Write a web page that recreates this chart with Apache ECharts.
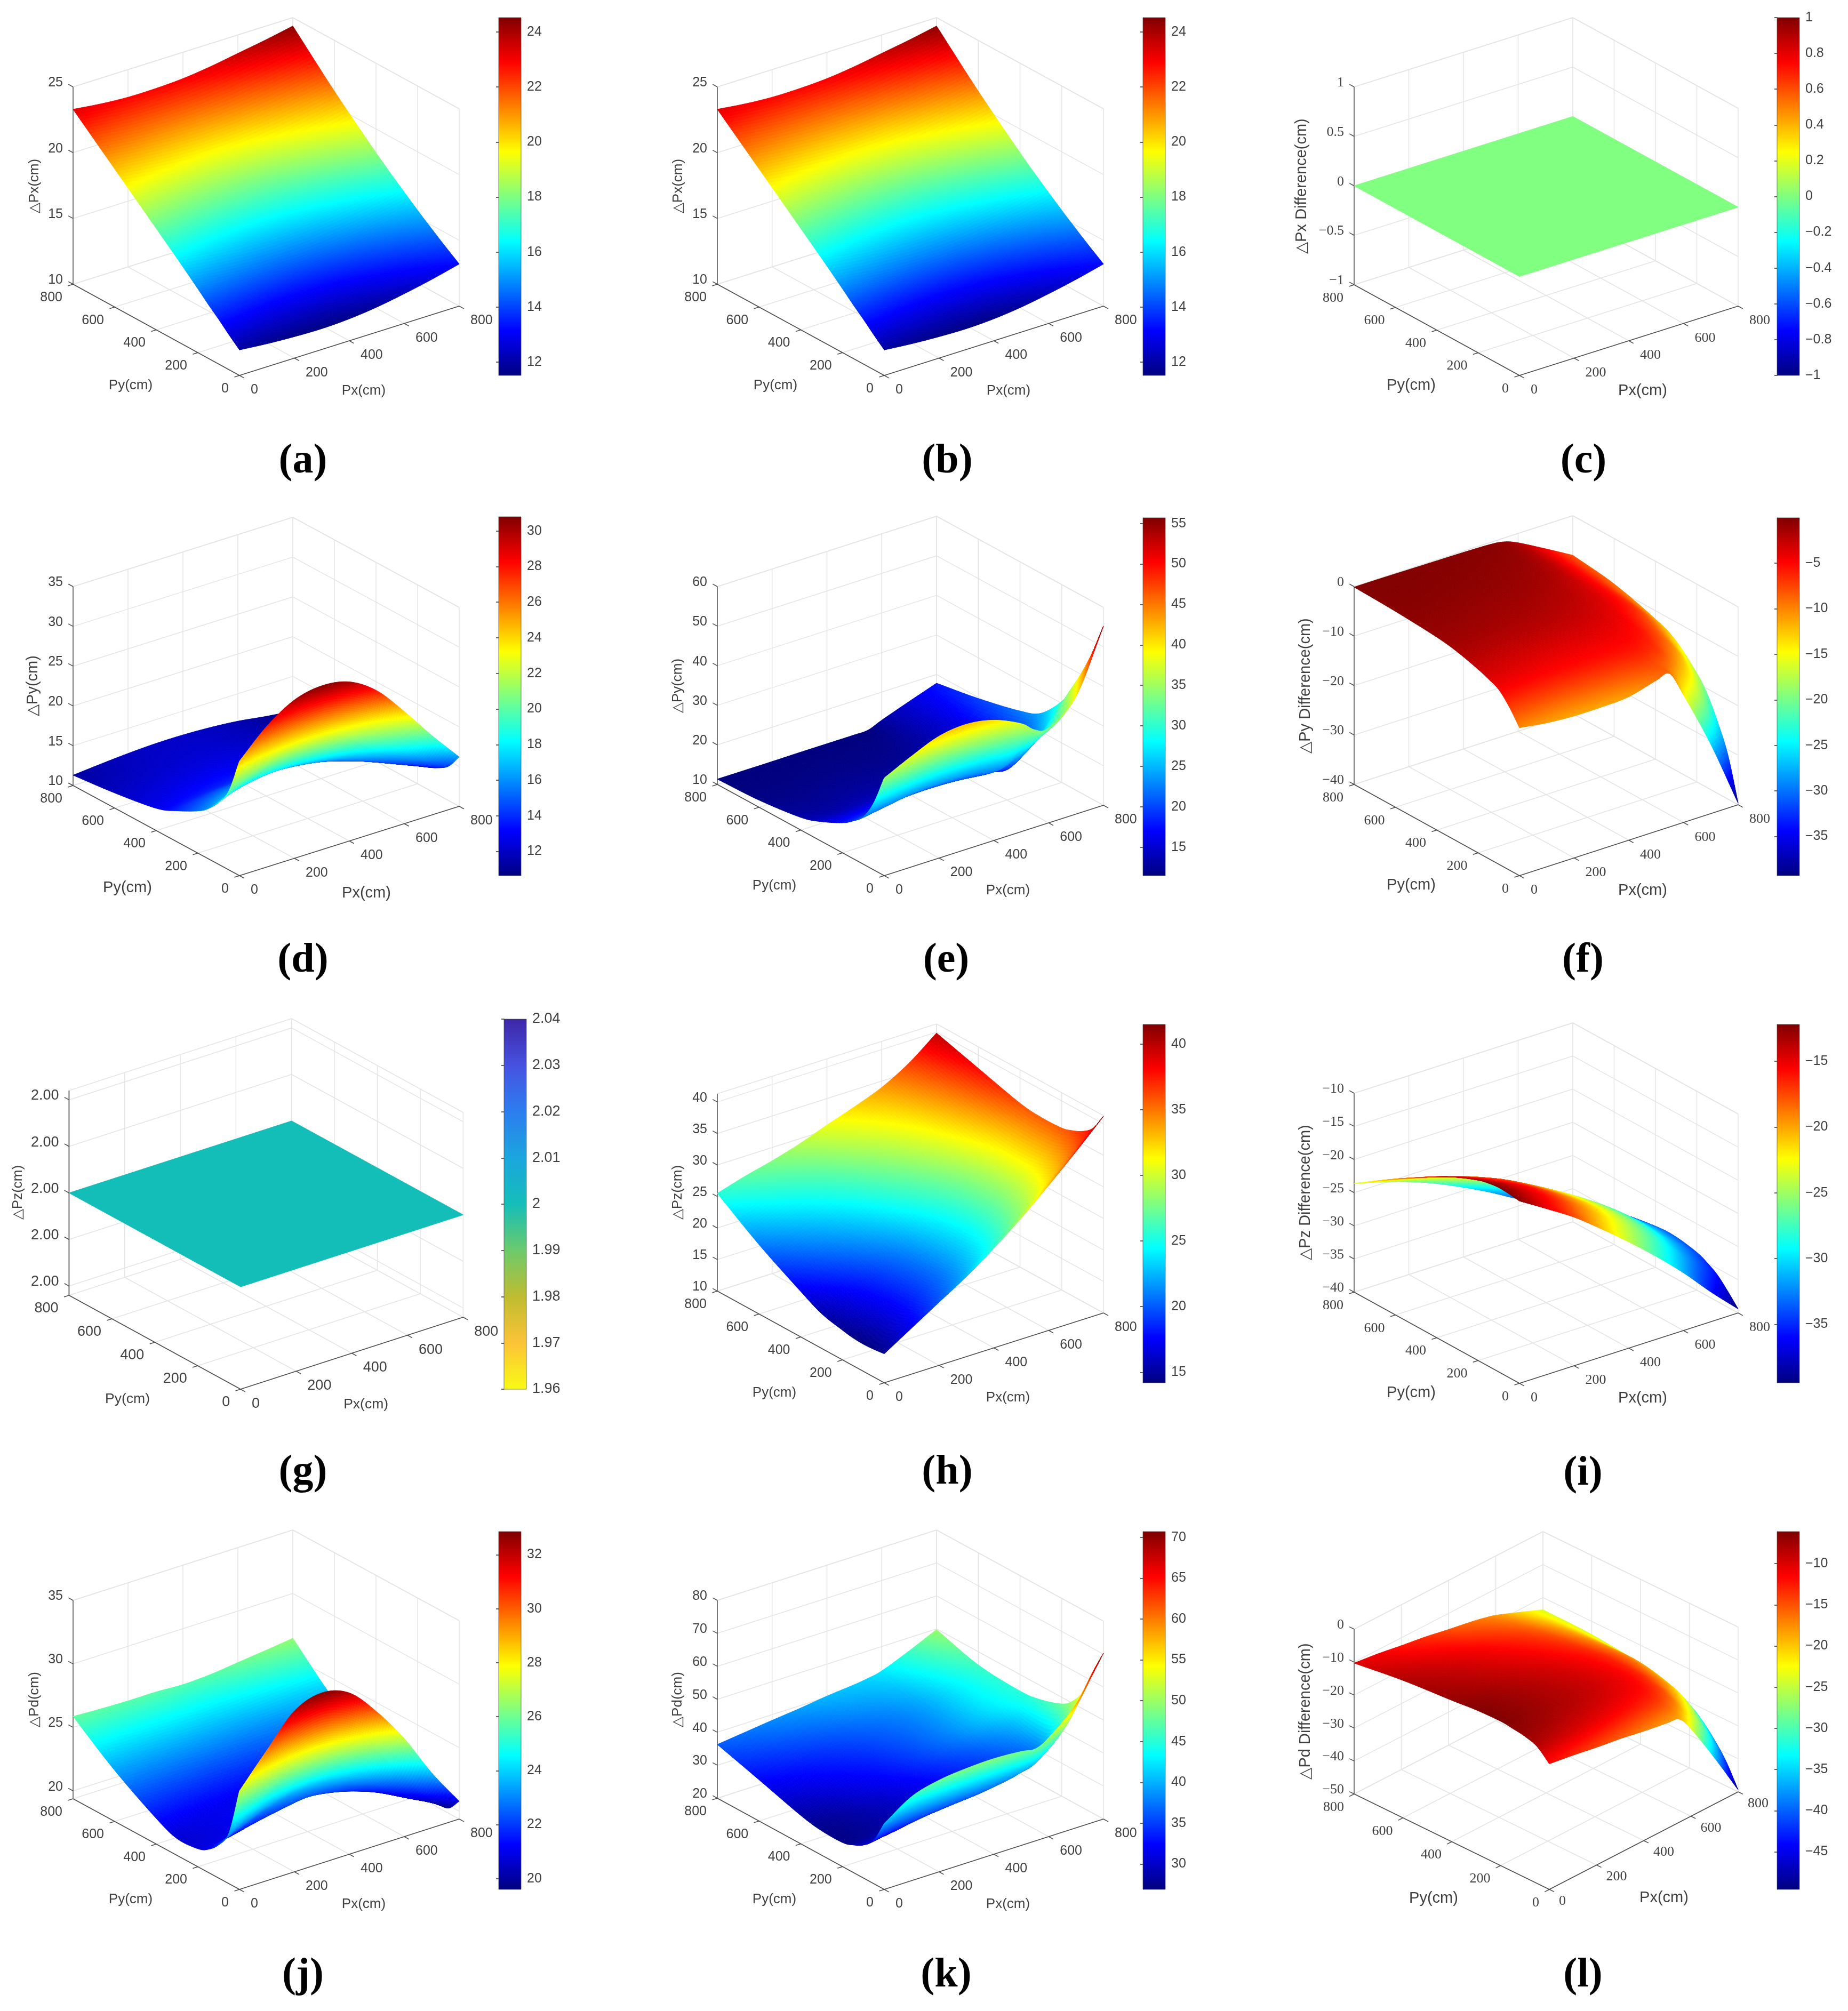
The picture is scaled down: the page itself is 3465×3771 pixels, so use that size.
<!DOCTYPE html>
<html><head><meta charset="utf-8"><style>html,body{margin:0;padding:0;background:#fff}#c{width:3465px;height:3771px}</style>
<script src="https://cdn.jsdelivr.net/npm/echarts@6/dist/echarts.min.js"></script></head><body><div id="c"></div>
<script>
// ---------- values ----------
const pxValues=[0,100,200,300,400,500,600,700,800];
const pxKink=[0,100,200,300,400,500,550,600,700,800];
const pyValues=[0,50,100,150,200,300,400,600,800];
const pxCorners=[0,800], pyCorners=[0,800];
const axisTicks=[0,200,400,600,800];

const dPxModel=[
[11.94,11.75,11.63,11.58,11.67,11.90,12.26,12.69,13.20],
[12.65,12.44,12.30,12.24,12.30,12.51,12.85,13.27,13.76],
[13.40,13.17,13.00,12.92,12.97,13.16,13.47,13.87,14.34],
[14.10,13.85,13.68,13.58,13.62,13.79,14.10,14.48,14.94],
[14.85,14.59,14.39,14.28,14.30,14.46,14.74,15.11,15.55],
[16.30,16.02,15.80,15.67,15.67,15.81,16.07,16.42,16.84],
[17.70,17.41,17.19,17.06,17.05,17.18,17.44,17.79,18.20],
[20.50,20.23,20.03,19.91,19.92,20.07,20.35,20.71,21.14],
[23.30,23.05,22.90,22.90,23.00,23.25,23.60,23.95,24.36]];
const dPxDiff=[[0,0],[0,0]];
const dPyModel=[
[24.4,27.7,29.9,30.6,30.0,27.8,24.1,20.0,16.2],
[19.99,22.17,23.64,24.13,23.7,22.24,19.73,16.92,14.35],
[17.8,19.42,20.52,20.91,20.57,19.47,17.55,15.39,13.42],
[16.3,17.54,18.39,18.7,18.43,17.58,16.06,14.34,12.79],
[15.3,16.29,16.98,17.24,17.0,16.32,15.08,13.65,12.37],
[13.9,14.54,14.99,15.19,15.0,14.55,13.69,12.67,11.78],
[12.8,13.16,13.43,13.58,13.44,13.17,12.6,11.9,11.32],
[11.9,12.1,12.3,12.4,12.4,12.2,11.9,11.4,10.9],
[11.3,11.6,11.85,12.0,12.0,11.85,11.55,11.05,10.65]];
const dPySim=[
[34.7,38,40.8,41.6,40.4,37.3,34.6,34,39.7,55.3],
[27,29,30.9,31.5,30.7,28.8,29.5,30,34.5,47.5],
[22,23.3,24.6,25,24.5,23.2,24.5,25.9,31,41],
[19.5,20.4,21.4,21.7,21.4,20.5,20.8,21.3,27,35.5],
[17.6,18.3,19.1,19.3,19.1,18.5,18.3,18,23,30.5],
[15,15.1,15.6,15.8,15.7,15.5,15.7,16,18.5,24.6],
[13.2,13,13.3,13.4,13.4,13.5,13.9,14.3,16.8,22.3],
[11.8,11.8,11.9,12,12,12.2,12.7,13.3,15.6,19.7],
[11.35,11.35,11.35,11.4,11.4,11.4,11.5,12.9,15.4,17.8]];
const dPyDiff=[
[-10.1,-10.9,-11.3,-11.3,-11,-9.5,-9,-14.2,-26,-39.7],
[-7,-7.6,-8,-8,-7.9,-7.4,-8.2,-10.5,-19,-31],
[-4.7,-5.2,-5.5,-5.6,-5.7,-5.8,-6.5,-8,-14.5,-25.5],
[-3.7,-4,-4.3,-4.5,-4.7,-4.9,-5.5,-6.7,-11.8,-21],
[-2.9,-3.2,-3.5,-3.7,-3.9,-4.3,-4.9,-5.8,-10,-18],
[-1.7,-1.9,-2.1,-2.3,-2.6,-3.2,-3.8,-4.7,-8,-13.8],
[-1,-1.1,-1.3,-1.5,-1.8,-2.4,-3,-3.8,-6.6,-11.7],
[-0.4,-0.4,-0.5,-0.6,-0.8,-1.2,-1.8,-2.7,-5.6,-9.2],
[-0.1,-0.1,-0.15,-0.2,-0.25,-0.4,-0.8,-1.9,-4.9,-8]];
const dPzModel=[[2,2],[2,2]];
const dPzSim=[
[14.6,17.3,20,22.7,25.8,29.2,33,37,41.2],
[14.40,16.78,19.15,21.54,24.31,27.37,30.80,34.48,38.40],
[14.30,16.53,18.74,20.96,23.58,26.45,29.69,33.21,37.00],
[14.40,16.54,18.61,20.74,23.24,25.98,29.07,32.46,36.20],
[14.70,16.73,18.72,20.75,23.15,25.77,28.72,32.04,35.70],
[15.50,17.43,19.29,21.24,23.54,25.98,28.76,31.97,35.60],
[17.20,18.99,20.68,22.47,24.61,26.85,29.39,32.43,36.00],
[21.00,22.59,24.02,25.61,27.51,29.43,31.59,34.40,37.90],
[25.5,26.8,27.9,29.2,30.8,32.3,34,36.5,39.85]];
const dPzDiff=[
[-12.5,-15,-17.6,-20.7,-24,-27.5,-31.3,-35.5,-39.4],
[-12.3,-14.6,-17,-19.9,-23,-26.3,-29.9,-33.9,-37.6],
[-12.2,-14.31,-16.52,-19.24,-22.15,-25.26,-28.67,-32.49,-36],
[-12.4,-14.36,-16.42,-18.99,-21.75,-24.71,-27.97,-31.64,-35],
[-12.8,-14.62,-16.55,-18.97,-21.6,-24.42,-27.55,-31.07,-34.3],
[-14.1,-15.69,-17.37,-19.56,-21.95,-24.54,-27.42,-30.71,-33.7],
[-15.7,-17.1,-18.6,-20.6,-22.8,-25.2,-27.9,-31,-33.8],
[-19.5,-20.58,-21.75,-23.43,-25.3,-27.37,-29.75,-32.52,-35],
[-23.6,-24.7,-26,-27.6,-29.5,-31.6,-33.9,-35.8,-37.2]];
const dPdModel=[
[27.14,29.65,32.04,32.78,32.08,29.9,27.1,23.7,20.78],
[23.4,25.4,27.2,28,27.8,26.5,24.4,21.9,19.8],
[22,23.2,24.4,25,25,24.2,22.7,20.9,19.65],
[21.2,21.9,22.8,23.4,23.4,22.8,21.7,20.5,19.7],
[20.8,21,21.4,21.8,22.1,21.8,21.2,20.5,19.85],
[20.7,20.9,21.1,21.3,21.4,21.2,20.9,20.6,20.5],
[21.4,21.3,21.25,21.2,21.2,21.2,21.2,21.3,21.4],
[23.4,23.3,23.25,23.2,23.15,23.15,23.2,23.3,23.4],
[25.86,25.76,25.7,25.7,25.6,25.7,25.95,26.2,26.47]];
const dPdSim=[
[40,45.5,47.8,48.7,49,48.5,47.9,50,57.5,70.3],
[33.2,35.5,36.7,37.5,38,39,40,41.5,49,63],
[30,31,32.5,33.5,34.5,36,36.8,38,44,55],
[28.3,29,30,31.2,32.5,34,34.8,35.8,40,50.5],
[27.3,28,29,30.3,31.8,33.4,34.2,35.2,38.5,48],
[27.4,28.2,29.5,31,32.8,34.8,35.8,37,40,45.8],
[28.6,29.5,31,32.5,34.5,36.8,38,39.5,42.5,45],
[32.5,33.3,34.2,35.2,36.5,37.8,38.7,39.8,43,46],
[36.3,37.3,38.3,39.2,40.3,41.1,41.7,42.6,46,49.8]];
const dPdDiff=[
[-11.9,-13,-14.3,-15.4,-16.8,-18,-18.7,-23.5,-36,-49.4],
[-8.5,-9.5,-10.5,-11.5,-12.6,-13.8,-15.5,-18.5,-29,-42.5],
[-7.2,-8,-8.9,-9.7,-10.7,-12,-13.5,-16,-24.5,-37.5],
[-6.6,-7.3,-8.1,-8.9,-9.9,-11.3,-12.6,-14.8,-21.5,-33.5],
[-6.2,-7,-7.8,-8.6,-9.6,-11,-12.2,-14,-20,-30.7],
[-6.4,-7.1,-7.9,-8.8,-9.8,-11.2,-12.2,-13.6,-18.3,-27.4],
[-7.1,-7.7,-8.5,-9.4,-10.4,-11.8,-12.7,-14,-18,-25.6],
[-8.3,-9.1,-10,-11,-12.2,-13.6,-14.5,-15.7,-19,-24],
[-10.3,-11.2,-12.4,-13.5,-14.9,-16.2,-17,-18,-20.8,-23.7]];

// ---------- panel layout and axis descriptions ----------
const jetStops=[[0,'#00007f'],[.125,'#0000ff'],[.375,'#00ffff'],[.625,'#ffff00'],[.875,'#ff0000'],[1,'#7f0000']];
const parulaFlipStops=[[0,'#f9fb15'],[.125,'#fcc338'],[.25,'#bfbc30'],[.375,'#6cca6b'],[.5,'#14beb8'],[.625,'#1ba6de'],[.75,'#2d7df0'],[.875,'#4652e0'],[1,'#3e26a8']];
const SANS='"Liberation Sans"',SERIF='"Liberation Serif"';
const panels=[
{cap:'(a)',capAt:[563,861],z:dPxModel,front:[449,704],left:[137,533],right:[861,574],top:163,zlim:[10,25],zTicks:[10,15,20,25],clim:[11.52,24.52],cTicks:[12,14,16,18,20,22,24],bar:[935,33,42,671],zName:'△Px(cm)',zAt:[64.5,349],pyAt:[-204,19],pxAt:[233,29],nameSize:26,zNameSize:26},
{cap:'(b)',capAt:[1771,861],z:dPxModel,front:[1658,704],left:[1345,533],right:[2069,574],top:163,zlim:[10,25],zTicks:[10,15,20,25],clim:[11.52,24.52],cTicks:[12,14,16,18,20,22,24],bar:[2143,33,42,671],zName:'△Px(cm)',zAt:[1272,349],pyAt:[-204,19],pxAt:[233,29],nameSize:26,zNameSize:26},
{cap:'(c)',capAt:[2964,861],z:dPxDiff,px:pxCorners,py:pyCorners,front:[2849,704],left:[2539,534],right:[3259,574],top:163,zlim:[-1,1],zTicks:[-1,-0.5,0,0.5,1],clim:[-1,1],cTicks:[-1,-0.8,-0.6,-0.4,-0.2,0,0.2,0.4,0.6,0.8,1],bar:[3332,33,42,671],zName:'△Px Difference(cm)',zAt:[2441,349],pyAt:[-203,19],pxAt:[231,29],nameSize:29,zNameSize:29,serif:true},
{cap:'(d)',capAt:[563,1797],z:dPyModel,front:[449,1642],left:[137,1473],right:[861,1512],top:1100,zlim:[10,35],zTicks:[10,15,20,25,30,35],clim:[10.64,30.8],cTicks:[12,14,16,18,20,22,24,26,28,30],bar:[935,969,42,673],zName:'△Py(cm)',zAt:[62,1286],pyAt:[-210,23],pxAt:[238,33],nameSize:29,zNameSize:29},
{cap:'(e)',capAt:[1769,1797],z:dPySim,px:pxKink,front:[1658,1642],left:[1345,1471],right:[2069,1510],top:1100,zlim:[10,60],zTicks:[10,20,30,40,50,60],clim:[11.5,55.7],cTicks:[15,20,25,30,35,40,45,50,55],bar:[2143,971,42,671],zName:'△Py(cm)',zAt:[1271,1286],pyAt:[-206,19],pxAt:[232,28],nameSize:26,zNameSize:26},
{cap:'(f)',capAt:[2963,1797],z:dPyDiff,px:pxKink,front:[2849,1642],left:[2539,1471],right:[3259,1509],top:1100,zlim:[-40,0],zTicks:[-40,-30,-20,-10,0],clim:[-39.3,-0.02],cTicks:[-35,-30,-25,-20,-15,-10,-5],bar:[3332,971,42,671],zName:'△Py Difference(cm)',zAt:[2448,1286],pyAt:[-203,18],pxAt:[231,28],nameSize:29,zNameSize:29,serif:true},
{cap:'(g)',capAt:[563,2757],z:dPzModel,px:pxCorners,py:pyCorners,front:[449,2605],left:[126,2429],right:[868,2470],top:2045,zlim:[1.99978,2.00022],zTicks:[1.9998,1.9999,2,2.0001,2.0002],zFixed:2,clim:[1.96,2.04],cTicks:[1.96,1.97,1.98,1.99,2,2.01,2.02,2.03,2.04],cmap:parulaFlipStops,bar:[945,1911,42,694],zName:'△Pz(cm)',zAt:[29.5,2236],pyAt:[-213,19],pxAt:[236,29],nameSize:26.5,zNameSize:26,tickSize:27,barSize:27},
{cap:'(h)',capAt:[1771,2757],z:dPzSim,front:[1658,2593],left:[1345,2421],right:[2069,2462],top:2051,zlim:[10,41.3],zTicks:[10,15,20,25,30,35,40],clim:[14.2,41.5],cTicks:[15,20,25,30,35,40],bar:[2143,1921,42,672],zName:'△Pz(cm)',zAt:[1271,2236],pyAt:[-206,19],pxAt:[232,28],nameSize:26,zNameSize:26},
{cap:'(i)',capAt:[2963,2759],z:dPzDiff,front:[2849,2594],left:[2539,2423],right:[3259,2462],top:2050,zlim:[-40,-10],zTicks:[-40,-35,-30,-25,-20,-15,-10],clim:[-39.45,-12.2],cTicks:[-35,-30,-25,-20,-15],bar:[3332,1921,42,672],zName:'△Pz Difference(cm)',zAt:[2448,2236],pyAt:[-203,18],pxAt:[231,28],nameSize:29,zNameSize:29,serif:true},
{cap:'(j)',capAt:[563,3700],z:dPdModel,front:[449,3543],left:[137,3373],right:[861,3411],top:3001,zlim:[19.38,35],zTicks:[20,25,30,35],clim:[19.6,32.86],cTicks:[20,22,24,26,28,30,32],bar:[935,2872,42,671],zName:'△Pd(cm)',zAt:[64.5,3187],pyAt:[-204,19],pxAt:[233,28],nameSize:26,zNameSize:26},
{cap:'(k)',capAt:[1769,3700],z:dPdSim,px:pxKink,front:[1658,3543],left:[1345,3372],right:[2069,3411],top:3001,zlim:[20,80],zTicks:[20,30,40,50,60,70,80],clim:[26.9,70.7],cTicks:[30,35,40,45,50,55,60,65,70],bar:[2143,2872,42,671],zName:'△Pd(cm)',zAt:[1271,3187],pyAt:[-206,19],pxAt:[232,28],nameSize:26,zNameSize:26},
{cap:'(l)',capAt:[2963,3700],z:dPdDiff,px:pxKink,front:[2905,3543],left:[2539,3364],right:[3259,3360],top:3055,zlim:[-50,0],zTicks:[-50,-40,-30,-20,-10,0],clim:[-49.56,-6.1],cTicks:[-45,-40,-35,-30,-25,-20,-15,-10],bar:[3332,2872,42,671],zName:'△Pd Difference(cm)',zAt:[2448,3209],pyAt:[-217,17],pxAt:[215,16],nameSize:29,zNameSize:29,serif:true,tickOff:[-19,25,18,22]}
];

// ---------- helpers ----------
const clamp=v=>Math.max(0,Math.min(1,v));
function hexRgb(h){return [parseInt(h.slice(1,3),16),parseInt(h.slice(3,5),16),parseInt(h.slice(5,7),16)];}
function mapColor(stops,t){
  t=clamp(t);
  for(let i=1;i<stops.length;i++){ if(t<=stops[i][0]){
    const a=stops[i-1],b=stops[i],f=(t-a[0])/(b[0]-a[0]),A=hexRgb(a[1]),B=hexRgb(b[1]);
    return 'rgb('+Math.round(A[0]+(B[0]-A[0])*f)+','+Math.round(A[1]+(B[1]-A[1])*f)+','+Math.round(A[2]+(B[2]-A[2])*f)+')';
  }}
  return stops[stops.length-1][1];
}
function spline(arr,i,t){
  const n=arr.length,p1=arr[i],p2=arr[i+1];
  const p0=i>0?arr[i-1]:2*arr[0]-arr[1], p3=i+2<n?arr[i+2]:2*arr[n-1]-arr[n-2];
  return .5*(2*p1+(p2-p0)*t+(2*p0-5*p1+4*p2-p3)*t*t+(3*p1-p0-3*p2+p3)*t*t*t);
}
function steps(n,subs){const o=[];for(let i=0;i<n-1;i++){const s=subs[i]||1;for(let k=0;k<s;k++)o.push([i,k/s]);}o.push([n-2,1]);return o;}
const fmtSerif=v=>String(v).replace('-','\u2212');

const opt={animation:false,title:[],grid:[],xAxis:[],yAxis:[],series:[]};
const subX=[12,12,12,12,12,12,12,12], subXKink=[12,12,12,12,12,6,6,12,12], subY=[20,14,10,10,12,14,22,22];

panels.forEach(function(P,pi){
  const Fx=P.front[0],Fy=P.front[1],Vx=[P.right[0]-Fx,P.right[1]-Fy],Vy=[P.left[0]-Fx,P.left[1]-Fy];
  const zH=P.left[1]-P.top,zl=P.zlim;
  const proj=(x,y,z)=>[Fx+x/800*Vx[0]+y/800*Vy[0], Fy+x/800*Vx[1]+y/800*Vy[1]-(z-zl[0])/(zl[1]-zl[0])*zH];
  const bx0=Math.min(P.left[0],Fx)-130,bx1=P.right[0]+90,by0=P.top-130,by1=Fy+70;
  opt.grid.push({left:bx0,top:by0,width:bx1-bx0,height:by1-by0});
  opt.xAxis.push({gridIndex:pi,type:'value',min:bx0,max:bx1,show:false});
  opt.yAxis.push({gridIndex:pi,type:'value',min:by0,max:by1,inverse:true,show:false});
  const seg=[];
  const add=(a,b,k)=>{const p=proj.apply(null,a),q=proj.apply(null,b);seg.push([p[0],p[1],q[0],q[1],k]);};
  axisTicks.forEach(t=>{
    add([t,800,zl[0]],[t,800,zl[1]],0); add([t,0,zl[0]],[t,800,zl[0]],0);
    add([800,t,zl[0]],[800,t,zl[1]],0); add([0,t,zl[0]],[800,t,zl[0]],0);
  });
  P.zTicks.concat([zl[1]]).forEach(z=>{add([0,800,z],[800,800,z],0);add([800,800,z],[800,0,z],0);});
  add([0,0,zl[0]],[800,0,zl[0]],1); add([0,0,zl[0]],[0,800,zl[0]],1); add([0,800,zl[0]],[0,800,zl[1]],2);
  const lenX=10/Math.hypot(Vx[0],Vx[1])*800,lenY=10/Math.hypot(Vy[0],Vy[1])*800;
  axisTicks.forEach(t=>{add([t,0,zl[0]],[t,-lenY,zl[0]],1);add([0,t,zl[0]],[-lenX,t,zl[0]],1);});
  P.zTicks.forEach(z=>add([0,800,z],[0,800+lenY,z],1));
  const frameStyle=[{stroke:'#e4e4e4',lineWidth:1.5},{stroke:'#4d4d4d',lineWidth:1.5},{stroke:'#777777',lineWidth:2}];
  opt.series.push({type:'custom',name:'frame '+P.cap,xAxisIndex:pi,yAxisIndex:pi,silent:true,clip:false,z:1,progressive:0,data:seg,
    renderItem:function(p,api){const a=api.coord([api.value(0),api.value(1)]),b=api.coord([api.value(2),api.value(3)]);
      return {type:'line',shape:{x1:a[0],y1:a[1],x2:b[0],y2:b[1]},style:frameStyle[api.value(4)]};}});
  const px=P.px||pxValues,py=P.py||pyValues,G=P.z,flat=G.length===2;
  const sx=steps(px.length,flat?[1]:(px===pxKink?subXKink:subX)),sy=steps(py.length,flat?[1]:subY);
  const pts=[];
  sy.forEach(sj=>{
    const col=G.map(row=>sx.map(s=>spline(row,s[0],s[1])));
    const line=[];
    sx.forEach((si,k)=>{
      const z=spline(col.map(c=>c[k]),sj[0],sj[1]);
      const q=proj(spline(px,si[0],si[1]),spline(py,sj[0],sj[1]),z);
      line.push([q[0],q[1],z]);
    });
    pts.push(line);
  });
  const cells=[];
  for(let j=pts.length-2;j>=0;j--){for(let i=pts[0].length-2;i>=0;i--){
    const a=pts[j][i],b=pts[j][i+1],c=pts[j+1][i+1],d=pts[j+1][i];
    cells.push([a[0],a[1],b[0],b[1],c[0],c[1],d[0],d[1],(a[2]+b[2]+c[2]+d[2])/4]);
  }}
  const stops=P.cmap||jetStops,cmin=P.clim[0],cmax=P.clim[1];
  opt.series.push({type:'custom',name:'surface '+P.cap,xAxisIndex:pi,yAxisIndex:pi,silent:true,clip:false,z:2,progressive:0,data:cells,
    renderItem:function(p,api){
      const o=[api.coord([api.value(0),api.value(1)]),api.coord([api.value(2),api.value(3)]),api.coord([api.value(4),api.value(5)]),api.coord([api.value(6),api.value(7)])];
      const col=mapColor(stops,(api.value(8)-cmin)/(cmax-cmin));
      return {type:'polygon',shape:{points:o},style:{fill:col,stroke:col,lineWidth:1}};
    }});
  const off=P.tickOff||[-20,25,21,27.5];
  const fam=P.serif?SERIF:SANS,tSize=P.tickSize||(P.serif?26:25),tCol='#404040',labels=[];
  axisTicks.forEach(t=>{
    const a=proj(0,t,zl[0]),b=proj(t,0,zl[0]);
    labels.push({x:a[0]+off[0],y:a[1]+off[1],text:String(t),align:'right',fam,size:tSize});
    labels.push({x:b[0]+off[2],y:b[1]+off[3],text:String(t),align:'left',fam,size:tSize});
  });
  P.zTicks.forEach(z=>{const a=proj(0,800,z);
    labels.push({x:a[0]-19,y:a[1]-7.6,text:P.zFixed?z.toFixed(P.zFixed):(P.serif?fmtSerif(z):String(z)),align:'right',fam,size:tSize});});
  labels.push({x:Fx+P.pyAt[0],y:Fy+P.pyAt[1],text:'Py(cm)',align:'center',fam:SANS,size:P.nameSize});
  labels.push({x:Fx+P.pxAt[0],y:Fy+P.pxAt[1],text:'Px(cm)',align:'center',fam:SANS,size:P.nameSize});
  labels.push({x:P.zAt[0],y:P.zAt[1],text:P.zName,align:'center',fam:SANS,size:P.zNameSize,rot:Math.PI/2});
  opt.series.push({type:'custom',name:'labels '+P.cap,xAxisIndex:pi,yAxisIndex:pi,silent:true,clip:false,z:3,progressive:0,data:labels.map(l=>[l.x,l.y]),
    renderItem:function(p,api){const l=labels[p.dataIndex],c=api.coord([api.value(0),api.value(1)]);
      return {type:'text',x:c[0],y:c[1],rotation:l.rot||0,style:{text:l.text,x:0,y:0,align:l.align,verticalAlign:'middle',fill:tCol,fontSize:l.size,fontFamily:l.fam}};}});
  opt.title.push({text:P.cap,left:P.capAt[0],top:P.capAt[1],textAlign:'center',textVerticalAlign:'middle',textStyle:{fontFamily:SERIF,fontWeight:'bold',fontSize:78,color:'#000'}});
});
panels.forEach(function(P,pi){
  const gi=12+pi,b=P.bar,stops=(P.cmap||jetStops),fs=P.barSize||25;
  opt.grid.push({left:b[0],top:b[1],width:b[2],height:b[3]});
  opt.xAxis.push({gridIndex:gi,type:'value',min:0,max:1,show:false});
  opt.yAxis.push({gridIndex:gi,type:'value',position:'right',min:P.clim[0],max:P.clim[1],splitLine:{show:false},
    axisLine:{show:true,lineStyle:{color:'#555',width:1}},
    axisTick:{show:true,inside:true,length:5,customValues:P.cTicks,lineStyle:{color:'#333',width:1.5}},
    axisLabel:{show:true,customValues:P.cTicks,margin:11,fontSize:fs,fontFamily:SANS,color:'#404040',hideOverlap:false,formatter:v=>String(v).replace('-','\u2212')}});
  const colorStops=stops.map(s=>({offset:1-s[0],color:s[1]})).reverse();
  opt.series.push({type:'custom',name:'colorbar '+P.cap,xAxisIndex:gi,yAxisIndex:gi,silent:true,clip:false,z:2,progressive:0,data:[[0,P.clim[1],1,P.clim[0]]],
    renderItem:function(p,api){const a=api.coord([api.value(0),api.value(1)]),c=api.coord([api.value(2),api.value(3)]);
      return {type:'rect',shape:{x:a[0],y:a[1],width:c[0]-a[0],height:c[1]-a[1]},style:{fill:{type:'linear',x:0,y:0,x2:0,y2:1,colorStops:colorStops},stroke:'rgba(70,70,70,.7)',lineWidth:1}};}});
});
const chart=echarts.init(document.getElementById('c'),null,{renderer:'canvas',width:3465,height:3771});
chart.setOption(opt);
</script></body></html>
